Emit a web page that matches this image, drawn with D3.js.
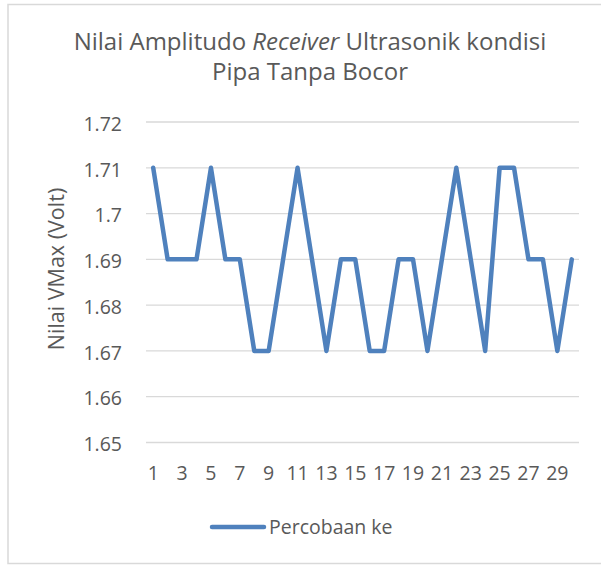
<!DOCTYPE html>
<html>
<head>
<meta charset="utf-8">
<script src="https://cdn.jsdelivr.net/npm/d3@7"></script>
<style>
  body { margin: 0; background: #fff; }
  text { font-family: "Open Sans", "Noto Sans", sans-serif; fill: #595959; }
</style>
</head>
<body>
<div id="graphic"></div>
<script>
// Chart data
var trials = d3.range(1, 31);
var vmax = [1.71, 1.69, 1.69, 1.69, 1.71, 1.69, 1.69, 1.67, 1.67, 1.69,
            1.71, 1.69, 1.67, 1.69, 1.69, 1.67, 1.67, 1.69, 1.69, 1.67,
            1.69, 1.71, 1.69, 1.67, 1.71, 1.71, 1.69, 1.69, 1.67, 1.69];
var yTicks = [1.65, 1.66, 1.67, 1.68, 1.69, 1.7, 1.71, 1.72];
var seriesName = 'Percobaan ke';

var width = 601, height = 565;
var margins = { top: 122, right: 22, bottom: 122, left: 146 };
var lineColor = '#4f81bd';
var labelSize = 19.5;

var svg = d3.select('#graphic').append('svg')
    .attr('width', width)
    .attr('height', height);

// outer chart border
svg.append('rect')
    .attr('x', 8).attr('y', 4.5)
    .attr('width', width).attr('height', 559)
    .attr('fill', 'none')
    .attr('stroke', '#d9d9d9')
    .attr('stroke-width', 1.5);

var chartWidth = width - margins.left - margins.right;
var chartHeight = height - margins.top - margins.bottom;

var xScale = d3.scaleBand()
    .domain(trials)
    .range([margins.left, margins.left + chartWidth]);

var yScale = d3.scaleLinear()
    .domain([1.65, 1.72])
    .range([margins.top + chartHeight - 0.5, margins.top]);

// gridlines
svg.append('g')
    .selectAll('line')
    .data(yTicks)
    .enter().append('line')
    .attr('x1', margins.left)
    .attr('x2', margins.left + chartWidth)
    .attr('y1', function(d) { return yScale(d); })
    .attr('y2', function(d) { return yScale(d); })
    .attr('stroke', '#d9d9d9')
    .attr('stroke-width', 1.3);

// y axis labels
var yAxis = d3.axisLeft(yScale)
    .tickValues(yTicks)
    .tickSize(0)
    .tickPadding(0)
    .tickFormat(function(d) { return String(+d.toFixed(2)); });

var yAxisG = svg.append('g')
    .attr('transform', 'translate(' + 122 + ',2)')
    .call(yAxis);
yAxisG.select('.domain').remove();
yAxisG.selectAll('text')
    .attr('font-size', labelSize)
    .style('font-family', '"Open Sans", sans-serif')
    .attr('fill', '#595959');

// x axis labels (odd trials only)
var xAxis = d3.axisBottom(xScale)
    .tickValues(trials.filter(function(d) { return d % 2 === 1; }))
    .tickSize(0)
    .tickPadding(0);

var xAxisG = svg.append('g')
    .attr('transform', 'translate(0,' + 466 + ')')
    .call(xAxis);
xAxisG.select('.domain').remove();
xAxisG.selectAll('text')
    .attr('font-size', labelSize)
    .style('font-family', '"Open Sans", sans-serif')
    .attr('fill', '#595959');

// line
var line = d3.line()
    .x(function(d, i) { return xScale(trials[i]) + xScale.bandwidth() / 2; })
    .y(function(d) { return yScale(d); });

svg.append('path')
    .datum(vmax)
    .attr('d', line)
    .attr('fill', 'none')
    .attr('stroke', lineColor)
    .attr('stroke-width', 4.5)
    .attr('stroke-linejoin', 'round')
    .attr('stroke-linecap', 'round');

// title
var title = svg.append('text')
    .attr('text-anchor', 'middle')
    .attr('font-size', 24);
var t1 = title.append('tspan').attr('x', 310).attr('y', 50);
t1.append('tspan').text('Nilai Amplitudo ');
t1.append('tspan').attr('font-style', 'italic').text('Receiver');
t1.append('tspan').text(' Ultrasonik kondisi');
title.append('tspan').attr('x', 310).attr('y', 80).text('Pipa Tanpa Bocor');

// y axis title
svg.append('text')
    .attr('transform', 'translate(64,269) rotate(-90)')
    .attr('text-anchor', 'middle')
    .attr('font-size', 21.5)
    .text('Nilai VMax (Volt)');

// legend
var legend = svg.append('g').attr('transform', 'translate(212,527)');
legend.append('line')
    .attr('x1', 0).attr('x2', 52)
    .attr('y1', 0).attr('y2', 0)
    .attr('stroke', lineColor)
    .attr('stroke-width', 4.5)
    .attr('stroke-linecap', 'round');
legend.append('text')
    .attr('x', 57).attr('y', 7)
    .attr('font-size', labelSize)
    .text(seriesName);
</script>
</body>
</html>
